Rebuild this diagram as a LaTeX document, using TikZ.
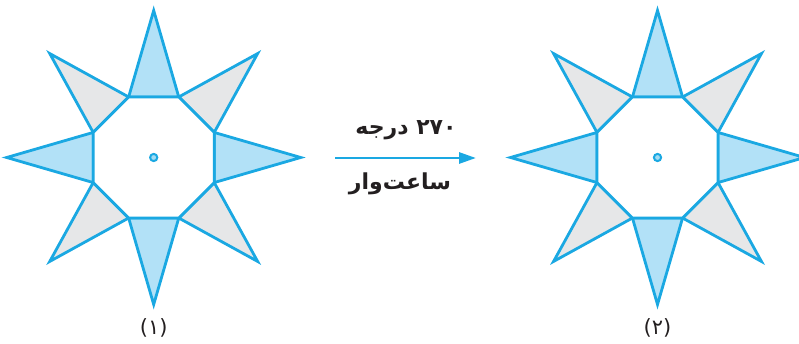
\documentclass[tikz,border=0pt]{standalone}
\usepackage{fontspec}
\usetikzlibrary{arrows.meta}
\TeXXeTstate=1
\newfontfamily\arabicfont[Script=Arabic]{DejaVu Sans}
\definecolor{starline}{RGB}{26,168,226}
\definecolor{starblue}{RGB}{178,225,247}
\definecolor{stargrey}{RGB}{230,231,232}
\definecolor{textcol}{RGB}{35,31,32}
\tikzset{
  starstroke/.style={draw=starline, line width=2.8pt, line join=miter},
  arrowline/.style={draw=starline, line width=2.8pt, -{Triangle[length=17pt,width=11pt]}},
  fatext/.style={text=textcol, font=\arabicfont\bfseries\fontsize{22}{26}\selectfont, inner sep=0pt},
  labtext/.style={text=textcol, font=\arabicfont\fontsize{21}{25}\selectfont, inner sep=0pt}
}
\begin{document}
\begin{tikzpicture}[x=1pt,y=-1pt]
\useasboundingbox (0,0) rectangle (799,344);
\foreach \cx/\nm in {153.7/A,657.5/B}{
  \begin{scope}[shift={(\cx,157.5)}]
    \coordinate (\nm c) at (0,0);
    \foreach \k/\col in {0/starblue,1/stargrey,2/starblue,3/stargrey,4/starblue,5/stargrey,6/starblue,7/stargrey}{
      \filldraw[starstroke, fill=\col] (45*\k:147) -- (45*\k+22.5:65.5) -- (45*\k-22.5:65.5) -- cycle;
    }
    \filldraw[starstroke, fill=white] (22.5:65.5) -- (67.5:65.5) -- (112.5:65.5) -- (157.5:65.5) -- (202.5:65.5) -- (247.5:65.5) -- (292.5:65.5) -- (337.5:65.5) -- cycle;
    \filldraw[draw=starline, fill=starline!40, line width=2pt] (\nm c) circle (3.6);
  \end{scope}
}
\coordinate (as) at (335,158);
\coordinate (ae) at (476,158);
\draw[arrowline] (as) -- (ae);
\node[fatext] (t1) at (406,130) {\beginR\beginL ۲۷۰\endL{} درجه\endR};
\node[fatext] (t2) at (400,184) {\beginR ساعت‌وار\endR};
\node[labtext] (l1) at (153.7,328) {(۱)};
\node[labtext] (l2) at (657.5,328) {(۲)};
\end{tikzpicture}
\end{document}
